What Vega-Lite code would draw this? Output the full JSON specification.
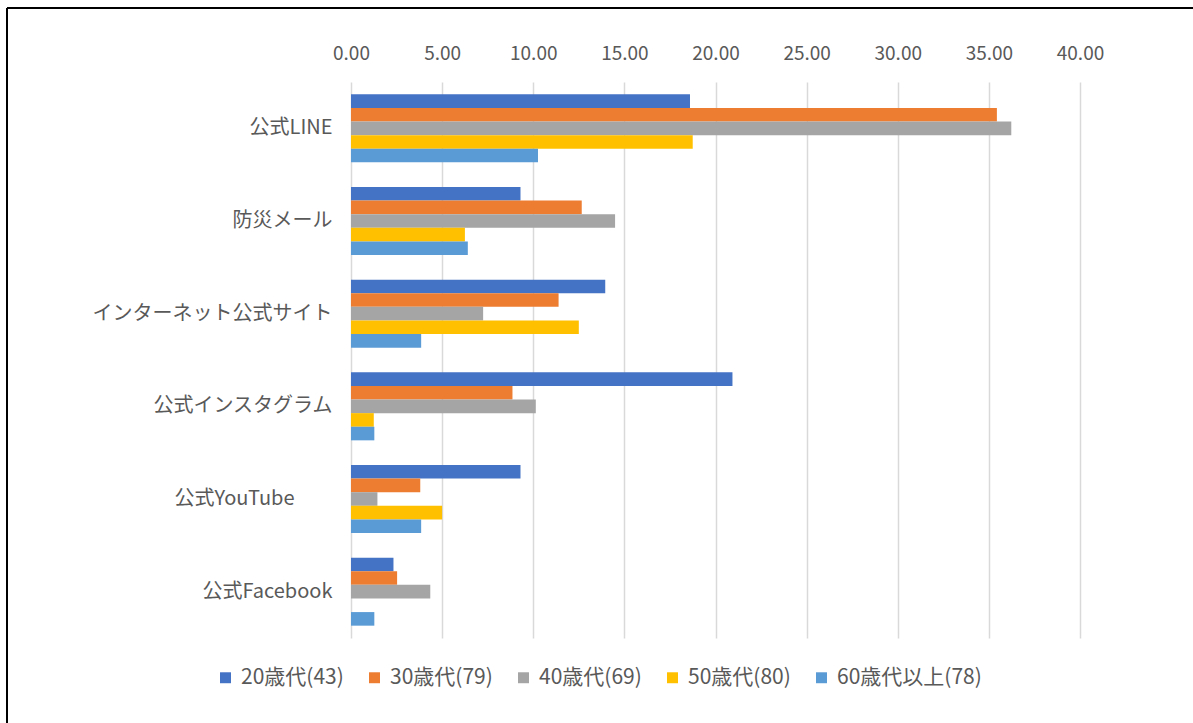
{
  "$schema": "https://vega.github.io/schema/vega-lite/v6.json",
  "autosize": {"type": "none"},
  "padding": {"left": 351, "top": 82, "right": 113, "bottom": 85},
  "width": 729,
  "height": 556,
  "background": "white",
  "config": {
    "view": {"stroke": null},
    "font": "Noto Sans CJK JP",
    "axis": {"labelFont": "Noto Sans CJK JP", "labelColor": "#595959", "labelFontSize": 19},
    "legend": {"labelFont": "Noto Sans CJK JP", "labelColor": "#595959", "labelFontSize": 19}
  },
  "data": {
    "values": [
      {"category": "公式LINE", "series": "20歳代(43)", "value": 18.60},
      {"category": "公式LINE", "series": "30歳代(79)", "value": 35.44},
      {"category": "公式LINE", "series": "40歳代(69)", "value": 36.23},
      {"category": "公式LINE", "series": "50歳代(80)", "value": 18.75},
      {"category": "公式LINE", "series": "60歳代以上(78)", "value": 10.26},
      {"category": "防災メール", "series": "20歳代(43)", "value": 9.30},
      {"category": "防災メール", "series": "30歳代(79)", "value": 12.66},
      {"category": "防災メール", "series": "40歳代(69)", "value": 14.49},
      {"category": "防災メール", "series": "50歳代(80)", "value": 6.25},
      {"category": "防災メール", "series": "60歳代以上(78)", "value": 6.41},
      {"category": "インターネット公式サイト", "series": "20歳代(43)", "value": 13.95},
      {"category": "インターネット公式サイト", "series": "30歳代(79)", "value": 11.39},
      {"category": "インターネット公式サイト", "series": "40歳代(69)", "value": 7.25},
      {"category": "インターネット公式サイト", "series": "50歳代(80)", "value": 12.50},
      {"category": "インターネット公式サイト", "series": "60歳代以上(78)", "value": 3.85},
      {"category": "公式インスタグラム", "series": "20歳代(43)", "value": 20.93},
      {"category": "公式インスタグラム", "series": "30歳代(79)", "value": 8.86},
      {"category": "公式インスタグラム", "series": "40歳代(69)", "value": 10.14},
      {"category": "公式インスタグラム", "series": "50歳代(80)", "value": 1.25},
      {"category": "公式インスタグラム", "series": "60歳代以上(78)", "value": 1.28},
      {"category": "公式YouTube", "series": "20歳代(43)", "value": 9.30},
      {"category": "公式YouTube", "series": "30歳代(79)", "value": 3.80},
      {"category": "公式YouTube", "series": "40歳代(69)", "value": 1.45},
      {"category": "公式YouTube", "series": "50歳代(80)", "value": 5.00},
      {"category": "公式YouTube", "series": "60歳代以上(78)", "value": 3.85},
      {"category": "公式Facebook", "series": "20歳代(43)", "value": 2.33},
      {"category": "公式Facebook", "series": "30歳代(79)", "value": 2.53},
      {"category": "公式Facebook", "series": "40歳代(69)", "value": 4.35},
      {"category": "公式Facebook", "series": "50歳代(80)", "value": 0},
      {"category": "公式Facebook", "series": "60歳代以上(78)", "value": 1.28}
    ]
  },
  "layer": [
    {
      "mark": {"type": "bar"},
      "encoding": {
        "y": {
          "field": "category",
          "type": "nominal",
          "sort": ["公式LINE", "防災メール", "インターネット公式サイト", "公式インスタグラム", "公式YouTube", "公式Facebook"],
          "scale": {"paddingInner": 0.266, "paddingOuter": 0.133},
          "axis": {
            "title": null,
            "domain": false,
            "ticks": false,
            "tickSize": 0,
            "labelPadding": {"condition": {"test": "datum.value === '公式YouTube'", "value": 57}, "value": 19},
            "grid": false,
            "labelLimit": 500,
            "labelFontSize": 20
          }
        },
        "yOffset": {
          "field": "series",
          "type": "nominal",
          "sort": ["20歳代(43)", "30歳代(79)", "40歳代(69)", "50歳代(80)", "60歳代以上(78)"],
          "scale": {"paddingInner": 0, "paddingOuter": 0}
        },
        "x": {
          "field": "value",
          "type": "quantitative",
          "scale": {"domain": [0, 40], "nice": false, "zero": true},
          "axis": {
            "orient": "top",
            "title": null,
            "values": [0, 5, 10, 15, 20, 25, 30, 35, 40],
            "format": ".2f",
            "domain": false,
            "ticks": false,
            "tickSize": 0,
            "labelPadding": 19,
            "labelFlush": false,
            "labelOverlap": false,
            "labelFontSize": 19,
            "grid": true,
            "gridColor": "#d9d9d9",
            "gridWidth": 1.5
          }
        },
        "color": {
          "field": "series",
          "type": "nominal",
          "sort": ["20歳代(43)", "30歳代(79)", "40歳代(69)", "50歳代(80)", "60歳代以上(78)"],
          "scale": {"range": ["#4472C4", "#ED7D31", "#A5A5A5", "#FFC000", "#5B9BD5"]},
          "legend": {
            "title": null,
            "orient": "none",
            "direction": "horizontal",
            "legendX": -136,
            "legendY": 585,
            "symbolType": "square",
            "symbolSize": 120,
            "symbolStrokeWidth": 0,
            "labelOffset": 5,
            "labelFontSize": 21,
            "labelLimit": 300,
            "columnPadding": 20
          }
        }
      }
    },
    {
      "mark": {"type": "rule", "color": "black", "strokeWidth": 2},
      "encoding": {
        "x": {"datum": -18.875, "type": "quantitative"},
        "y": {"datum": -0.2, "type": "quantitative", "scale": {"domain": [0, 1]}, "axis": null},
        "y2": {"datum": 1.1331}
      }
    },
    {
      "mark": {"type": "rule", "color": "black", "strokeWidth": 2},
      "encoding": {
        "x": {"datum": -18.875, "type": "quantitative"},
        "x2": {"datum": 50},
        "y": {"datum": 1.1331, "type": "quantitative", "scale": {"domain": [0, 1]}, "axis": null}
      }
    }
  ],
  "resolve": {"scale": {"y": "independent"}}
}
